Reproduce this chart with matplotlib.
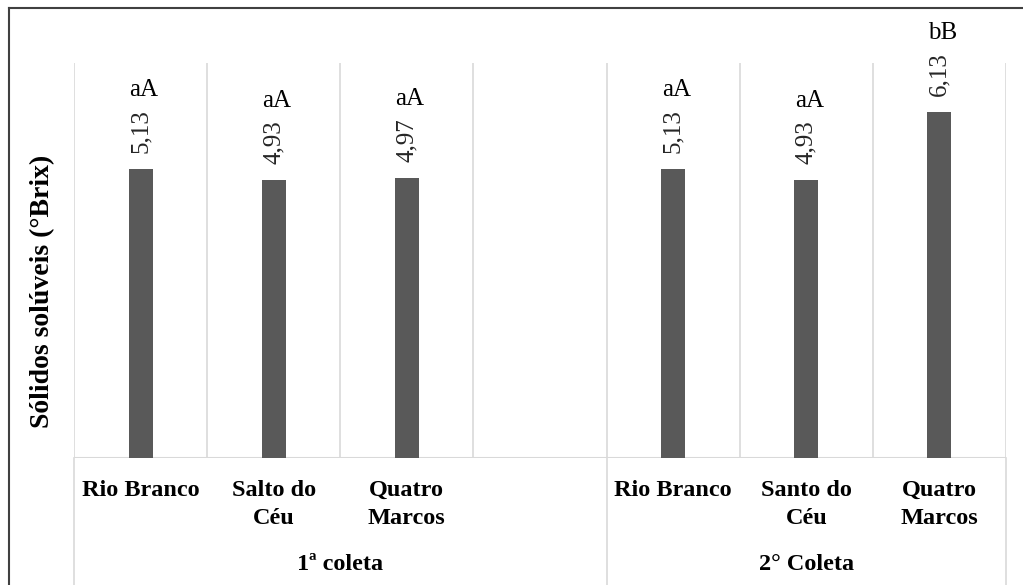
import matplotlib
matplotlib.use("Agg")
import matplotlib.pyplot as plt
from matplotlib.lines import Line2D

# data
group_names = ["1ª coleta", "2° Coleta"]
cats_1 = ["Rio Branco", "Salto do\nCéu", "Quatro\nMarcos"]
cats_2 = ["Rio Branco", "Santo do\nCéu", "Quatro\nMarcos"]
vals_1 = [5.13, 4.93, 4.97]
vals_2 = [5.13, 4.93, 6.13]
letters_1 = ["aA", "aA", "aA"]
letters_2 = ["aA", "aA", "bB"]

serif = ["Liberation Serif", "DejaVu Serif"]
bar_col = "#595959"
grid_col = "#d9d9d9"

W, H = 1023, 585
fig = plt.figure(figsize=(W / 100, H / 100), dpi=100)
ax = fig.add_axes([74 / W, (H - 458) / H, (1006 - 74) / W, (458 - 63) / H])

# slots: group 1 uses 0..2, slot 3 is empty, group 2 uses 4..6
x1 = list(range(len(cats_1)))
x2 = [len(cats_1) + 1 + i for i in range(len(cats_2))]
nslots = len(cats_1) + 1 + len(cats_2)

xs = x1 + x2
vals = vals_1 + vals_2
cats = cats_1 + cats_2
letters = letters_1 + letters_2

ax.bar(xs, vals, width=0.18, color=bar_col, zorder=3)

ax.set_xlim(-0.5, nslots - 0.5)
ax.set_ylim(0, 7)
for s in ax.spines.values():
    s.set_visible(False)
ax.set_xticks([])
ax.set_yticks([])

# vertical grid lines between slots
for b in range(nslots + 1):
    ax.axvline(b - 0.5, color=grid_col, lw=1.2, zorder=1)
ax.axhline(0, color=grid_col, lw=1.5, zorder=2)

# long separators running through the label area
trans = ax.get_xaxis_transform()
for b in [0, len(cats_1) + 1, nslots]:
    ax.add_line(Line2D([b - 0.5, b - 0.5], [0, -0.33], transform=trans,
                       color=grid_col, lw=1.2, clip_on=False))

# value labels and letters
for x, v, let in zip(xs, vals, letters):
    ax.annotate(f"{v:.2f}".replace(".", ","), xy=(x, v), xytext=(0, 16),
                textcoords="offset pixels", rotation=90, ha="center", va="bottom",
                fontsize=18, family=serif, color="#262626")
    ax.annotate(let, xy=(x, v), xytext=(3, 73), textcoords="offset pixels",
                ha="center", va="baseline", fontsize=18, family=serif)

# category labels
for x, c in zip(xs, cats):
    for i, line in enumerate(c.split("\n")):
        ax.annotate(line, xy=(x, 0), xycoords=trans, xytext=(0, -32 - 29 * i),
                    textcoords="offset pixels", ha="center", va="center",
                    fontsize=17.5, fontweight="bold", family=serif)

# group labels
g1_mid = (-0.5 + len(cats_1) + 0.5) / 2
g2_mid = (len(cats_1) + 0.5 + nslots - 0.5) / 2
for gx, g in zip([g1_mid, g2_mid], group_names):
    ax.annotate(g, xy=(gx, 0), xycoords=trans, xytext=(0, -107),
                textcoords="offset pixels", ha="center", va="center",
                fontsize=17.5, fontweight="bold", family=serif)

fig.text(43 / W, (H - 291) / H, "Sólidos solúveis (°Brix)", rotation=90,
         ha="center", va="center", fontsize=20, fontweight="bold", family=serif)

# outer frame (top and left visible in the picture)
fig.add_artist(Line2D([9 / W, 9 / W], [0, 1 - 8 / H], color="#404040", lw=1.5))
fig.add_artist(Line2D([9 / W, 1], [1 - 8 / H, 1 - 8 / H], color="#404040", lw=1.5))

fig.savefig("out.png", dpi=100)
